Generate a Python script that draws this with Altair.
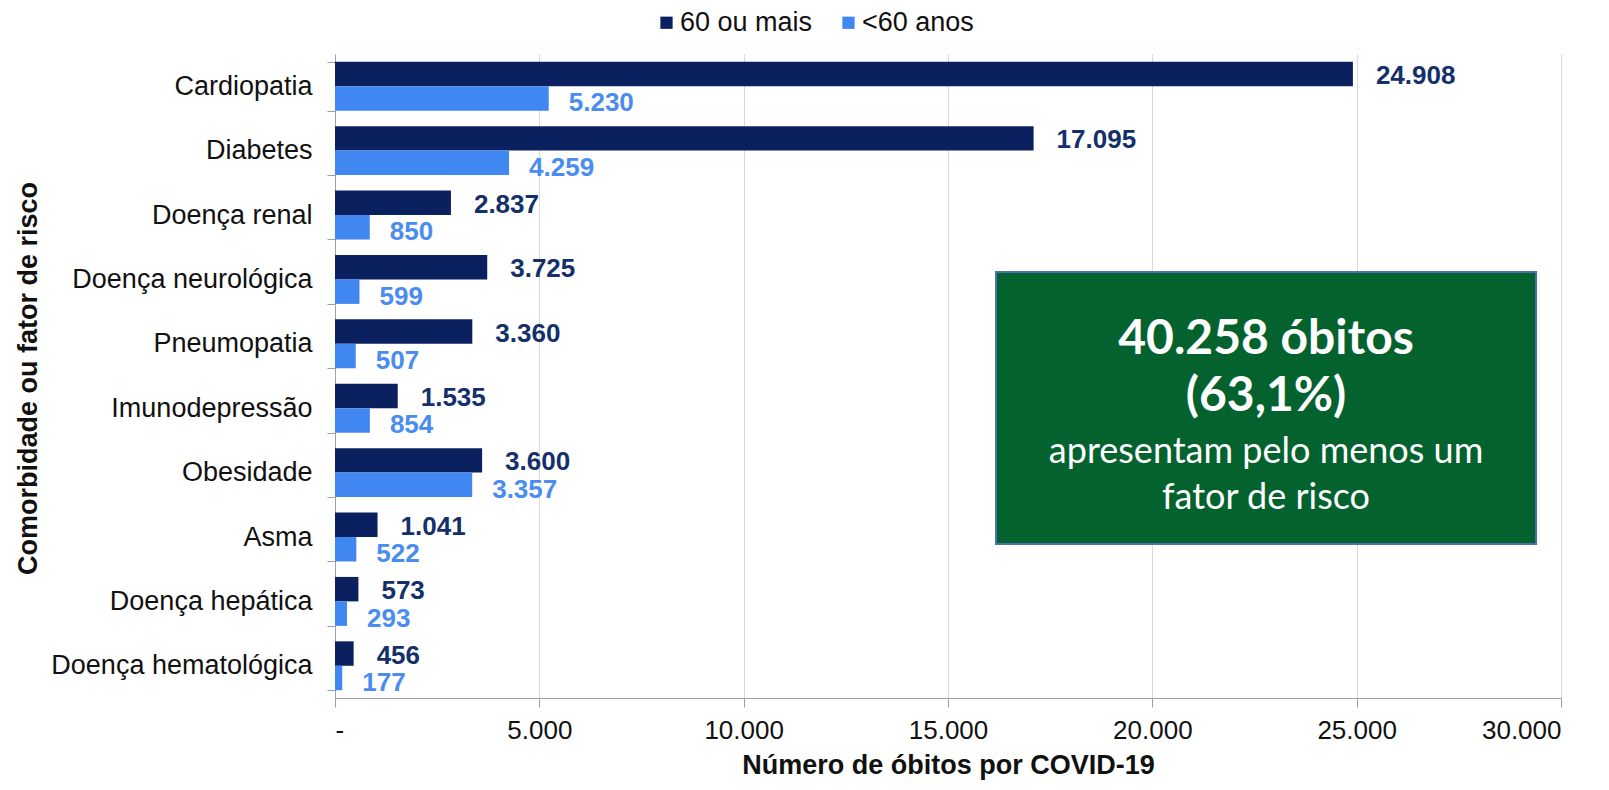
import altair as alt
import pandas as pd

categories = ["Cardiopatia", "Diabetes", "Doença renal", "Doença neurológica", "Pneumopatia",
              "Imunodepressão", "Obesidade", "Asma", "Doença hepática", "Doença hematológica"]
padded_labels = ["Doença neurológica", "Doença hepática", "Doença hematológica"]
series = ["60 ou mais", "<60 anos"]
values_60_mais = [24908, 17095, 2837, 3725, 3360, 1535, 3600, 1041, 573, 456]
values_menos_60 = [5230, 4259, 850, 599, 507, 854, 3357, 522, 293, 177]
x_ticks = [0, 5000, 10000, 15000, 20000, 25000, 30000]
box_extent = [16175, 29390]
box_lines = ["40.258 óbitos", "(63,1%)", "apresentam pelo menos um", "fator de risco"]


def br(n):
    return f"{n:,}".replace(",", ".")


rows = []
for c, a, b in zip(categories, values_60_mais, values_menos_60):
    rows.append({"cat": c, "serie": series[0], "valor": a, "rotulo": br(a)})
    rows.append({"cat": c, "serie": series[1], "valor": b, "rotulo": br(b)})
df = pd.DataFrame(rows)

W, H = 1226, 644
bar_colors = ["#0B205F", "#4187F2"]
lab_colors = ["#14306B", "#4A8CF0"]
FONT = "Liberation Sans"
pad_list = ",".join("'" + s + "'" for s in padded_labels)

x_enc = alt.X("valor:Q", scale=alt.Scale(domain=[0, 30000], nice=False, zero=True),
              axis=alt.Axis(values=x_ticks, grid=True, gridColor="#d9d9d9",
                            labelExpr="datum.value == 0 ? '-' : replace(format(datum.value, ','), ',', '.')",
                            labelFontSize=26, labelFont=FONT, labelColor="#111111", labelPadding=10,
                            tickSize=9, tickColor="#a0a0a0", domainColor="#a0a0a0",
                            title="Número de óbitos por COVID-19", titleFont=FONT, titleFontSize=27,
                            titleFontWeight="bold", titleColor="#111111", titleY=67, titleBaseline="middle"))
y_enc = alt.Y("cat:N", sort=categories, scale=alt.Scale(paddingInner=0.24, paddingOuter=0.12),
              axis=alt.Axis(tickBand="extent", tickSize=8, tickColor="#a0a0a0", domainColor="#a0a0a0",
                            labelExpr=f"indexof([{pad_list}], datum.label) >= 0 ? datum.label + '\u2002' : datum.label",
                            labelFontSize=27, labelFont=FONT, labelColor="#111111", labelPadding=15,
                            labelLimit=500,
                            title="Comorbidade ou fator de risco", titleFont=FONT, titleFontSize=27,
                            titleFontWeight="bold", titleColor="#111111", titleX=-307, titleY=324,
                            titleBaseline="middle", titleAlign="center", titleAngle=-90))
yoff = alt.YOffset("serie:N", sort=series)

base = alt.Chart(df)
bars = base.mark_bar().encode(
    x=x_enc, y=y_enc, yOffset=yoff,
    color=alt.Color("serie:N", sort=series, scale=alt.Scale(domain=series, range=bar_colors),
                    legend=alt.Legend(orient="none", legendX=318, legendY=-45, direction="horizontal",
                                      title=None, symbolType="square", symbolSize=150,
                                      symbolStrokeWidth=0, labelFontSize=27, labelFont=FONT,
                                      labelColor="#111111", columnPadding=22, labelOffset=0)),
)

t_dark = base.transform_filter(alt.datum.serie == series[0]).mark_text(
    align="left", baseline="middle", dx=23, dy=2, fontSize=26, fontWeight="bold", font=FONT,
    color=lab_colors[0]).encode(x="valor:Q", y=alt.Y("cat:N", sort=categories), yOffset=yoff, text="rotulo:N")
t_light = base.transform_filter(alt.datum.serie == series[1]).mark_text(
    align="left", baseline="middle", dx=20, dy=5, fontSize=26, fontWeight="bold", font=FONT,
    color=lab_colors[1]).encode(x="valor:Q", y=alt.Y("cat:N", sort=categories), yOffset=yoff, text="rotulo:N")

box_df = pd.DataFrame({"x0": [box_extent[0]], "x1": [box_extent[1]],
                       "xc": [(box_extent[0] + box_extent[1]) / 2]})
box = alt.Chart(box_df).mark_rect(fill="#04622F", stroke="#4A72B0", strokeWidth=2).encode(
    x="x0:Q", x2="x1:Q", y=alt.value(218), y2=alt.value(490))

line_specs = [(286, 48, "bold"), (343, 48, "bold"), (398, 36, "normal"), (444, 36, "normal")]
box_texts = []
for txt, (yy, fs, fw) in zip(box_lines, line_specs):
    box_texts.append(alt.Chart(box_df).mark_text(
        align="center", baseline="middle", font="Lato", fontSize=fs, fontWeight=fw, color="white",
        text=txt).encode(x="xc:Q", y=alt.value(yy)))

chart = alt.layer(bars, t_dark, t_light, box, *box_texts).properties(
    width=W, height=H,
    autosize=alt.AutoSizeParams(type="none"),
    padding={"left": 327, "top": 46, "right": 40, "bottom": 82},
).configure_view(stroke=None)

chart.save("out.html", embed_options={"renderer": "svg", "actions": False})
